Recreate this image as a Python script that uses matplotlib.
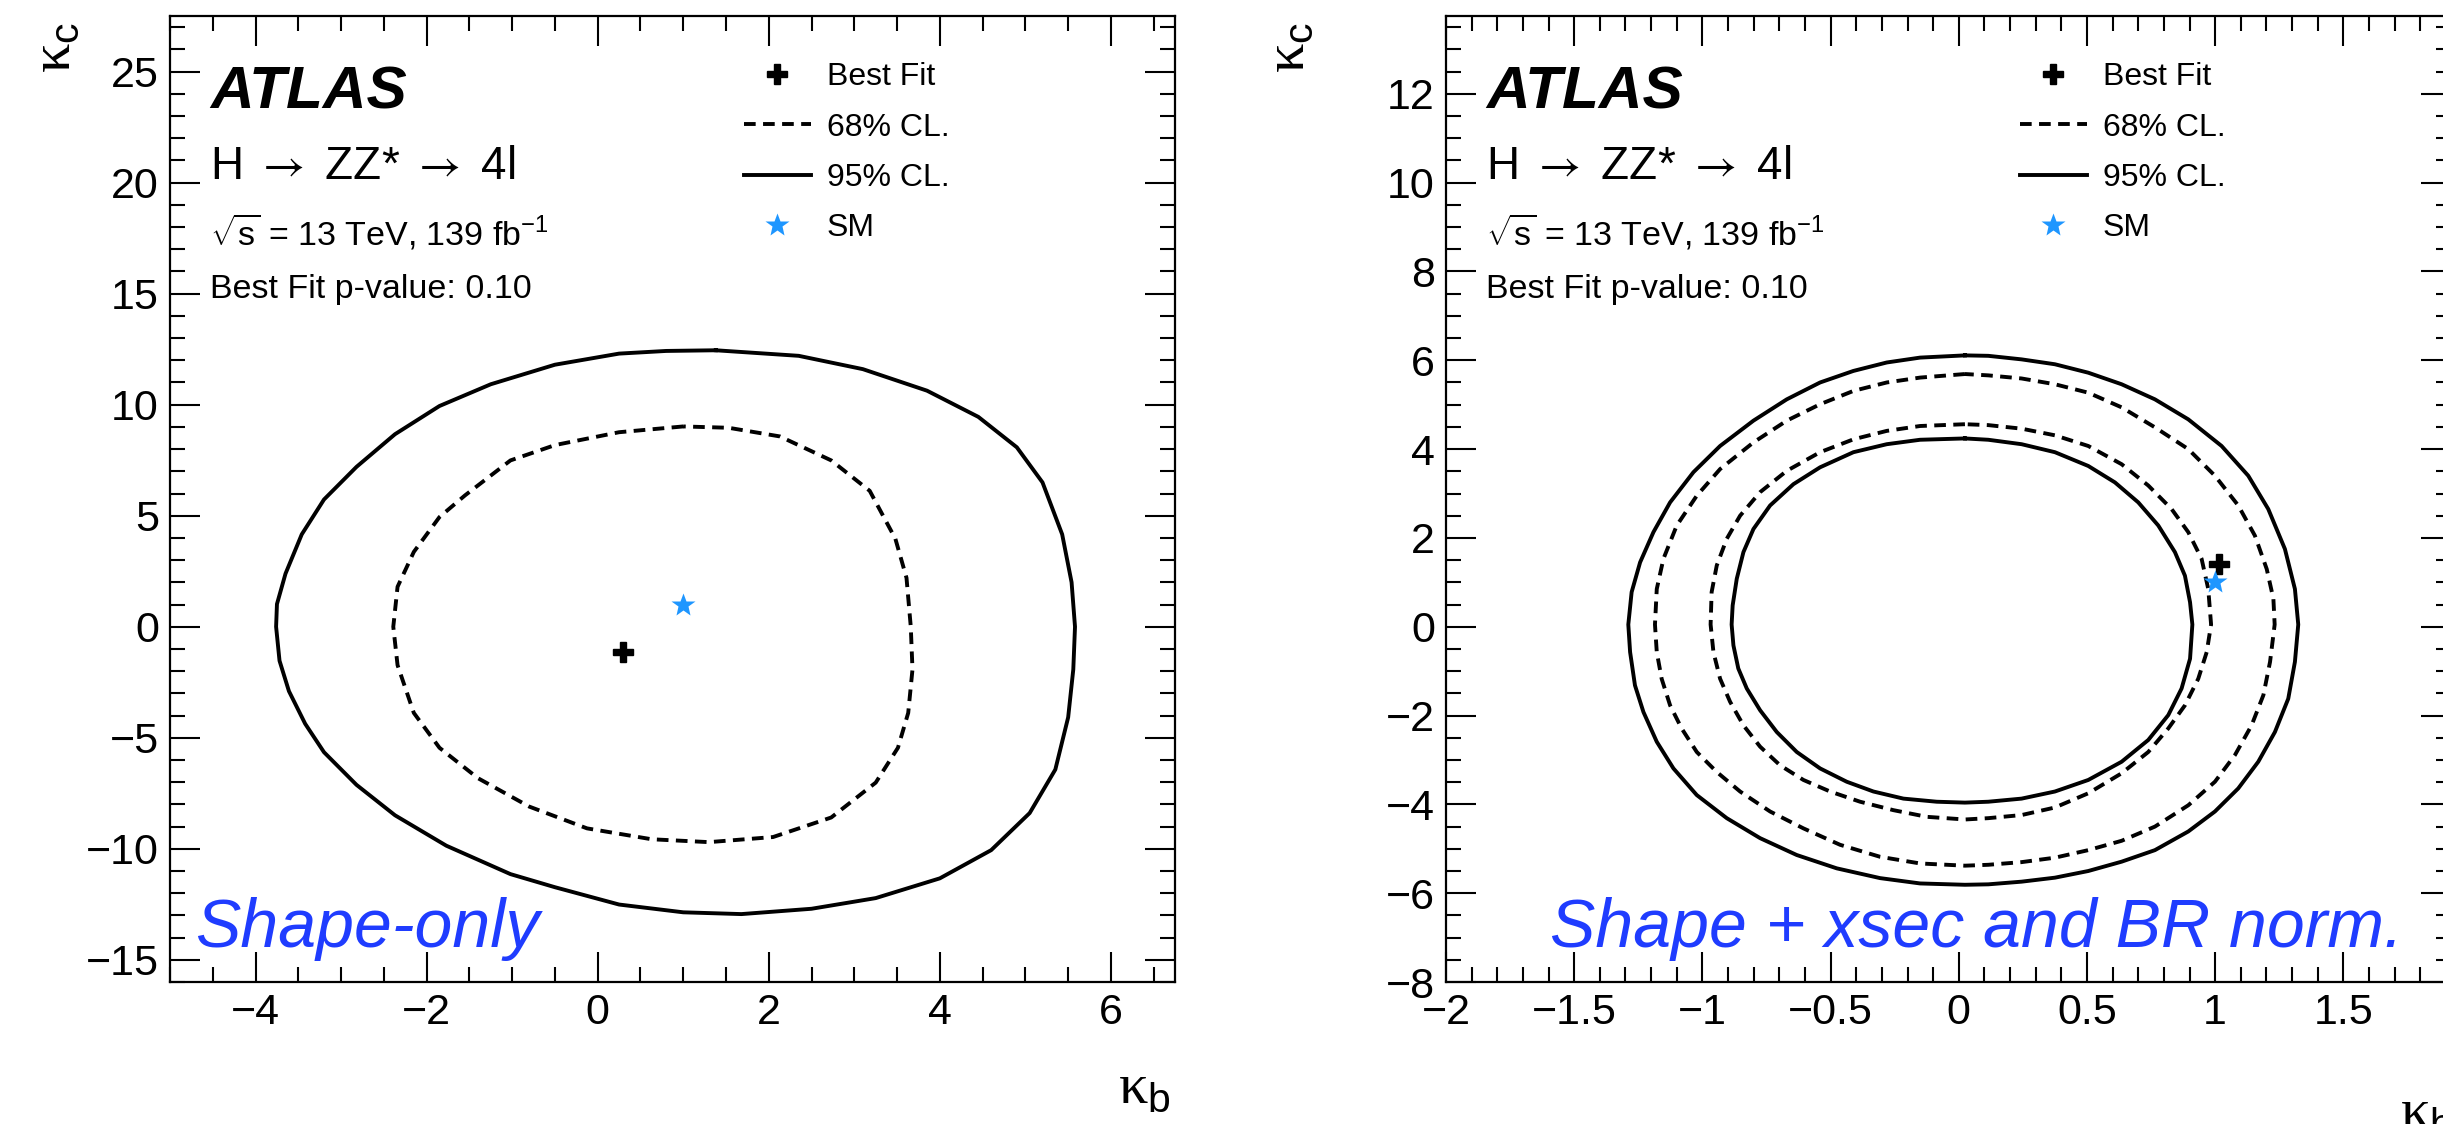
import numpy as np
import matplotlib
matplotlib.use("Agg")
import matplotlib.pyplot as plt
from matplotlib.ticker import MultipleLocator, FuncFormatter

plt.rcParams['font.family'] = ['Liberation Sans', 'DejaVu Sans']
plt.rcParams['mathtext.fontset'] = 'custom'
plt.rcParams['mathtext.rm'] = 'Liberation Serif'
plt.rcParams['mathtext.sf'] = 'Liberation Sans'
plt.rcParams['mathtext.it'] = 'Liberation Sans:italic'
plt.rcParams['mathtext.bf'] = 'Liberation Sans:bold'

# ---- shape-only fit (left) ----
best_fit_left = (0.29, -1.12)
sm_point = (1.0, 1.0)

left95_kb = [1.38, 0.8, 0.25, -0.5, -1.25, -1.85, -2.37, -2.82, -3.2, -3.46, -3.65, -3.75, -3.76,
             -3.72, -3.61, -3.42, -3.2, -2.82, -2.37, -1.77, -1.02, -0.5, 0.25, 1.0, 1.68,
             2.5, 3.25, 4.0, 4.6, 5.05, 5.35, 5.5, 5.56, 5.58, 5.54, 5.43, 5.2, 4.9, 4.45,
             3.85, 3.1, 2.35, 1.38]
left95_kc = [12.45, 12.42, 12.3, 11.8, 10.92, 9.94, 8.67, 7.2, 5.73, 4.16, 2.39, 1.02, 0.0,
             -1.53, -2.9, -4.37, -5.65, -7.12, -8.49, -9.86, -11.14, -11.73, -12.51, -12.86, -12.94,
             -12.7, -12.22, -11.33, -10.06, -8.39, -6.43, -4.08, -1.92, 0.0, 2.0, 4.16, 6.5, 8.08, 9.45,
             10.63, 11.6, 12.2, 12.45]

left68_kb = [1.0, 0.25, -0.5, -1.02, -1.55, -1.85, -2.15, -2.34, -2.39, -2.34, -2.15, -1.85,
             -1.4, -0.8, -0.125, 0.63, 1.3, 2.05, 2.73, 3.25, 3.51, 3.63, 3.68, 3.66, 3.61,
             3.48, 3.18, 2.73, 2.13, 1.53, 1.0]
left68_kc = [9.02, 8.76, 8.18, 7.49, 5.92, 4.94, 3.37, 1.8, 0.0, -1.73, -3.88, -5.45,
             -6.82, -8.1, -9.08, -9.57, -9.7, -9.47, -8.59, -7.02, -5.45, -3.88, -1.92, 0.0, 2.2,
             3.96, 6.12, 7.49, 8.57, 8.96, 9.02]

# ---- shape + xsec and BR norm. (right) ----
best_fit_right = (1.016, 1.42)

r95_out_kb = [0.024, -0.151, -0.281, -0.411, -0.541, -0.671, -0.801, -0.931, -1.035, -1.126,
              -1.191, -1.243, -1.276, -1.289, -1.282, -1.263, -1.230, -1.178, -1.113, -1.022,
              -0.905, -0.775, -0.632, -0.476, -0.307, -0.151, 0.024, 0.115, 0.245, 0.375,
              0.505, 0.635, 0.765, 0.895, 0.999, 1.090, 1.168, 1.233, 1.285, 1.311, 1.324,
              1.311, 1.272, 1.207, 1.129, 1.025, 0.895, 0.765, 0.635, 0.505, 0.375, 0.245,
              0.115, 0.024]
r95_out_kc = [6.11, 6.06, 5.95, 5.76, 5.50, 5.12, 4.64, 4.07, 3.48, 2.80,
              2.13, 1.45, 0.78, 0.05, -0.57, -1.32, -1.92, -2.59, -3.19, -3.79,
              -4.31, -4.76, -5.14, -5.44, -5.66, -5.78, -5.81, -5.80, -5.74, -5.65,
              -5.50, -5.29, -5.03, -4.61, -4.16, -3.64, -3.04, -2.37, -1.62, -0.79, 0.05,
              0.85, 1.75, 2.65, 3.40, 4.07, 4.67, 5.12, 5.46, 5.72, 5.91, 6.02,
              6.10, 6.11]

r68_out_kb = [0.024, -0.151, -0.281, -0.411, -0.541, -0.671, -0.801, -0.931, -1.022, -1.100,
              -1.152, -1.178, -1.185, -1.178, -1.159, -1.126, -1.081, -1.022, -0.944, -0.853,
              -0.736, -0.606, -0.463, -0.307, -0.151, 0.024, 0.115, 0.245, 0.375, 0.505,
              0.635, 0.765, 0.895, 0.999, 1.077, 1.142, 1.188, 1.214, 1.232, 1.227, 1.201,
              1.155, 1.090, 0.999, 0.895, 0.765, 0.635, 0.505, 0.375, 0.245, 0.115, 0.024]
r68_out_kc = [5.69, 5.61, 5.50, 5.31, 5.01, 4.64, 4.15, 3.55, 2.95, 2.28,
              1.53, 0.85, 0.05, -0.57, -1.17, -1.77, -2.29, -2.82, -3.27, -3.71,
              -4.16, -4.54, -4.91, -5.18, -5.33, -5.38, -5.36, -5.30, -5.20, -5.03,
              -4.82, -4.50, -4.02, -3.49, -2.89, -2.22, -1.54, -0.79, 0.05, 0.63, 1.30,
              2.05, 2.73, 3.40, 4.00, 4.49, 4.94, 5.27, 5.46, 5.59, 5.66, 5.69]

r68_in_kb = [0.024, -0.151, -0.281, -0.411, -0.541, -0.671, -0.775, -0.853, -0.905, -0.944,
             -0.964, -0.968, -0.957, -0.931, -0.892, -0.840, -0.775, -0.697, -0.606, -0.502,
             -0.385, -0.255, -0.125, 0.024, 0.115, 0.245, 0.375, 0.505, 0.635, 0.739,
             0.817, 0.882, 0.934, 0.967, 0.984, 0.973, 0.947, 0.895, 0.830, 0.739, 0.635,
             0.505, 0.375, 0.245, 0.115, 0.024]
r68_in_kc = [4.56, 4.52, 4.41, 4.22, 3.93, 3.51, 3.03, 2.50, 1.98, 1.38,
             0.78, 0.05, -0.57, -1.17, -1.69, -2.22, -2.70, -3.12, -3.45, -3.71,
             -3.94, -4.13, -4.28, -4.34, -4.31, -4.24, -4.07, -3.75, -3.30, -2.82,
             -2.29, -1.77, -1.17, -0.57, 0.05, 0.85, 1.53, 2.13, 2.65, 3.18, 3.66,
             4.07, 4.31, 4.46, 4.54, 4.56]

r95_in_kb = [0.024, -0.151, -0.281, -0.411, -0.541, -0.645, -0.736, -0.801, -0.840, -0.866,
             -0.882, -0.886, -0.879, -0.860, -0.827, -0.775, -0.710, -0.632, -0.541, -0.437,
             -0.333, -0.216, -0.086, 0.024, 0.115, 0.245, 0.375, 0.505, 0.635, 0.739,
             0.817, 0.869, 0.902, 0.911, 0.902, 0.882, 0.843, 0.778, 0.700, 0.609, 0.505,
             0.375, 0.245, 0.115, 0.024]
r95_in_kc = [4.24, 4.21, 4.11, 3.93, 3.59, 3.21, 2.73, 2.20, 1.68, 1.08,
             0.48, 0.05, -0.42, -0.94, -1.39, -1.88, -2.37, -2.82, -3.19, -3.49,
             -3.71, -3.87, -3.94, -3.96, -3.94, -3.87, -3.71, -3.45, -3.04, -2.55,
             -1.99, -1.39, -0.72, 0.05, 0.55, 1.15, 1.68, 2.28, 2.80, 3.25, 3.62,
             3.93, 4.11, 4.21, 4.24]

BLUE_TXT = '#1f3cff'
SM_COL = '#1e96ff'
DASH = (0, (3.0, 1.9))
LW = 2.8


def fmt(v, pos):
    return ('%g' % v).replace('-', '\u2212')


def style_axes(ax, xmaj, xmin, ymaj, ymin):
    ax.xaxis.set_major_locator(MultipleLocator(xmaj))
    ax.xaxis.set_minor_locator(MultipleLocator(xmin))
    ax.yaxis.set_major_locator(MultipleLocator(ymaj))
    ax.yaxis.set_minor_locator(MultipleLocator(ymin))
    ax.xaxis.set_major_formatter(FuncFormatter(fmt))
    ax.yaxis.set_major_formatter(FuncFormatter(fmt))
    ax.tick_params(which='both', direction='in', top=True, right=True, width=1.5)
    ax.tick_params(which='major', length=21.5, labelsize=31, pad=8)
    ax.tick_params(which='minor', length=11)
    for s in ax.spines.values():
        s.set_linewidth(1.6)


def add_labels(ax):
    ax.text(0.0398, 0.9048, 'ATLAS', transform=ax.transAxes, fontsize=43.5,
            fontweight='bold', fontstyle='italic', va='baseline')
    ax.text(0.0398, 0.831, r'H $\rightarrow$ ZZ* $\rightarrow$ 4l', transform=ax.transAxes,
            fontsize=33, va='baseline', math_fontfamily='stixsans')
    ax.text(0.0398, 0.762, r'$\sqrt{\mathsf{s}}$ = 13 TeV, 139 fb$^{\mathsf{-1}}$',
            transform=ax.transAxes, fontsize=24.5, va='baseline')
    ax.text(0.0398, 0.708, 'Best Fit p-value: 0.10', transform=ax.transAxes,
            fontsize=24.5, va='baseline')


fig = plt.figure(figsize=(24.43, 11.24), dpi=100)
ax1 = fig.add_axes([0.0696, 0.1263, 0.4114, 0.8594])
ax2 = fig.add_axes([0.5919, 0.1263, 0.4114, 0.8594])

leg_kw = dict(loc='upper left', frameon=False, fontsize=23, handlelength=2.1,
              handletextpad=0.5, labelspacing=0.63, borderpad=0, borderaxespad=0)

# left panel
c95, = ax1.plot(left95_kb, left95_kc, color='k', lw=LW)
c68, = ax1.plot(left68_kb, left68_kc, color='k', lw=LW, ls=DASH)
bf, = ax1.plot(*best_fit_left, ls='none', marker='P', color='k', ms=15)
sm, = ax1.plot(*sm_point, ls='none', marker='*', color=SM_COL, ms=18, mec='none')
ax1.set_xlim(-5, 6.75)
ax1.set_ylim(-16, 27.5)
style_axes(ax1, 2, 0.5, 5, 1)
add_labels(ax1)
ax1.text(0.025, 0.0365, 'Shape-only', transform=ax1.transAxes, fontsize=49,
         fontstyle='italic', color=BLUE_TXT, va='baseline')
ax1.text(-0.088, 0.994, r'$\mathrm{κ}_{\mathsf{c}}$', transform=ax1.transAxes, rotation=90,
         ha='right', va='top', fontsize=42)
ax1.text(0.996, -0.082, r'$\mathrm{κ}_{\mathsf{b}}$', transform=ax1.transAxes,
         ha='right', va='top', fontsize=42)
ax1.legend([bf, c68, c95, sm], ['Best Fit', '68% CL.', '95% CL.', 'SM'],
           bbox_to_anchor=(0.571, 0.952), **leg_kw)

# right panel
o95, = ax2.plot(r95_out_kb, r95_out_kc, color='k', lw=LW)
o68, = ax2.plot(r68_out_kb, r68_out_kc, color='k', lw=LW, ls=DASH)
ax2.plot(r68_in_kb, r68_in_kc, color='k', lw=LW, ls=DASH)
ax2.plot(r95_in_kb, r95_in_kc, color='k', lw=LW)
bf2, = ax2.plot(*best_fit_right, ls='none', marker='P', color='k', ms=15)
sm2, = ax2.plot(*sm_point, ls='none', marker='*', color=SM_COL, ms=18, mec='none')
ax2.set_xlim(-2, 1.92)
ax2.set_ylim(-8, 13.75)
style_axes(ax2, 0.5, 0.1, 2, 0.5)
add_labels(ax2)
ax2.text(0.1035, 0.0365, 'Shape + xsec and BR norm.', transform=ax2.transAxes, fontsize=49,
         fontstyle='italic', color=BLUE_TXT, va='baseline')
ax2.text(-0.129, 0.994, r'$\mathrm{κ}_{\mathsf{c}}$', transform=ax2.transAxes, rotation=90,
         ha='right', va='top', fontsize=42)
ax2.text(0.949, -0.108, r'$\mathrm{κ}_{\mathsf{b}}$', transform=ax2.transAxes,
         ha='left', va='top', fontsize=42)
ax2.legend([bf2, o68, o95, sm2], ['Best Fit', '68% CL.', '95% CL.', 'SM'],
           bbox_to_anchor=(0.571, 0.952), **leg_kw)

fig.savefig('out.png', dpi=100)
